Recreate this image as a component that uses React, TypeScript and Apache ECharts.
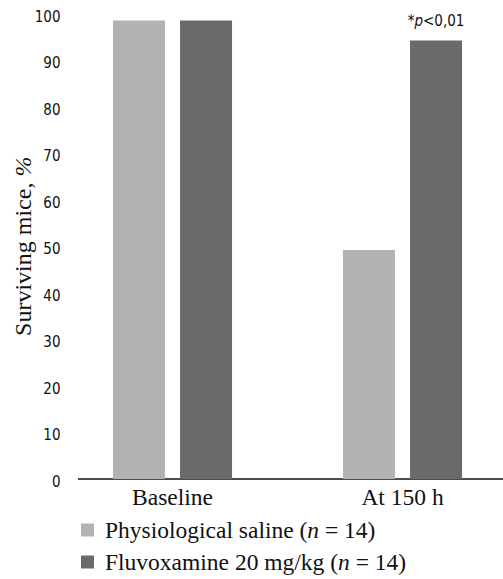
import React, { useEffect, useRef } from "react";
import * as echarts from "echarts";

const categories = ["Baseline", "At 150 h"];
const salineValues = [98.5, 49.2];
const fluvoxValues = [98.5, 94.2];
const seriesNames = ["Physiological saline", "Fluvoxamine 20 mg/kg"];
const groupN = [14, 14];
const yTicks = { min: 0, max: 100, interval: 10 };
const significance = "p<0,01";

const condensed = '"Liberation Sans Narrow", "DejaVu Sans Condensed", "Noto Sans", sans-serif';
const serif = '"Liberation Serif", "DejaVu Serif", serif';
const colors = ["#b2b2b2", "#6a6a6a"];

const CHART_W = 540;

export default function App() {
  const ref = useRef<HTMLDivElement>(null);
  useEffect(() => {
    if (!ref.current) return;
    const chart = echarts.init(ref.current, undefined, { renderer: "svg" });
    const legendTextStyle = {
      padding: [0, 0, 0, 6],
      rich: {
        t: { fontFamily: serif, fontSize: 23.5, color: "#111" },
        i: { fontFamily: serif, fontSize: 23.5, color: "#111", fontStyle: "italic" },
      },
    };
    const legendFormatter = (name: string) => {
      const i = seriesNames.indexOf(name);
      return `{t|${name} (}{i|n}{t| = ${groupN[i]})}`;
    };
    chart.setOption({
      animation: false,
      grid: {
        left: 57.5,
        right: CHART_W - 517.5,
        top: 13.5,
        bottom: 100,
        containLabel: false,
        outerBoundsMode: "none",
      },
      xAxis: {
        type: "category",
        data: categories,
        axisLine: { show: false },
        axisTick: { show: false },
        axisLabel: { color: "#111", fontFamily: serif, fontSize: 23.5, margin: 6 },
      },
      yAxis: {
        type: "value",
        min: yTicks.min,
        max: yTicks.max,
        interval: yTicks.interval,
        splitLine: { show: false },
        axisLine: { show: false },
        axisTick: { show: false },
        axisLabel: {
          margin: -3,
          formatter: "{v|{value}}",
          rich: {
            v: {
              color: "#111",
              fontFamily: condensed,
              fontSize: 15,
              padding: [6, 0, 0, 0],
            },
          },
        },
        name: "{a|Surviving mice, }{b|%}",
        nameLocation: "middle",
        nameGap: 23,
        nameMoveOverlap: false,
        nameRotate: 90,
        nameTextStyle: {
          rich: {
            a: { fontFamily: serif, fontSize: 24, color: "#111" },
            b: { fontFamily: serif, fontSize: 24, color: "#111", fontStyle: "italic" },
          },
        },
      },
      legend: seriesNames.map((n, i) => ({
        orient: "vertical",
        left: 76,
        top: 513 + i * 32,
        itemWidth: 13,
        itemHeight: 13,
        icon: "rect",
        data: [n],
        formatter: legendFormatter,
        textStyle: legendTextStyle,
      })),
      graphic: [
        {
          type: "line",
          shape: { x1: 78, y1: 479, x2: CHART_W, y2: 479 },
          style: { stroke: "#111", lineWidth: 1.5 },
        },
      ],
      series: [
        {
          name: seriesNames[0],
          type: "bar",
          data: salineValues,
          barWidth: 52,
          barGap: "29%",
          itemStyle: { color: colors[0] },
        },
        {
          name: seriesNames[1],
          type: "bar",
          data: fluvoxValues.map((v, i) =>
            i === 1
              ? {
                  value: v,
                  label: {
                    show: true,
                    position: "top",
                    distance: 12,
                    formatter: `{s|*}{p|p}{s|${significance.slice(1)}}`,
                    rich: {
                      s: { fontFamily: condensed, fontSize: 15, color: "#111" },
                      p: { fontFamily: condensed, fontSize: 15, color: "#111", fontStyle: "italic" },
                    },
                  },
                }
              : v
          ),
          barWidth: 52,
          itemStyle: { color: colors[1] },
        },
      ],
    });
    return () => chart.dispose();
  }, []);
  return (
    <div
      style={{
        position: "fixed",
        left: 0,
        top: 0,
        width: 503,
        height: 579,
        overflow: "hidden",
        background: "#fff",
      }}
    >
      <div ref={ref} style={{ width: CHART_W, height: 579 }} />
    </div>
  );
}
